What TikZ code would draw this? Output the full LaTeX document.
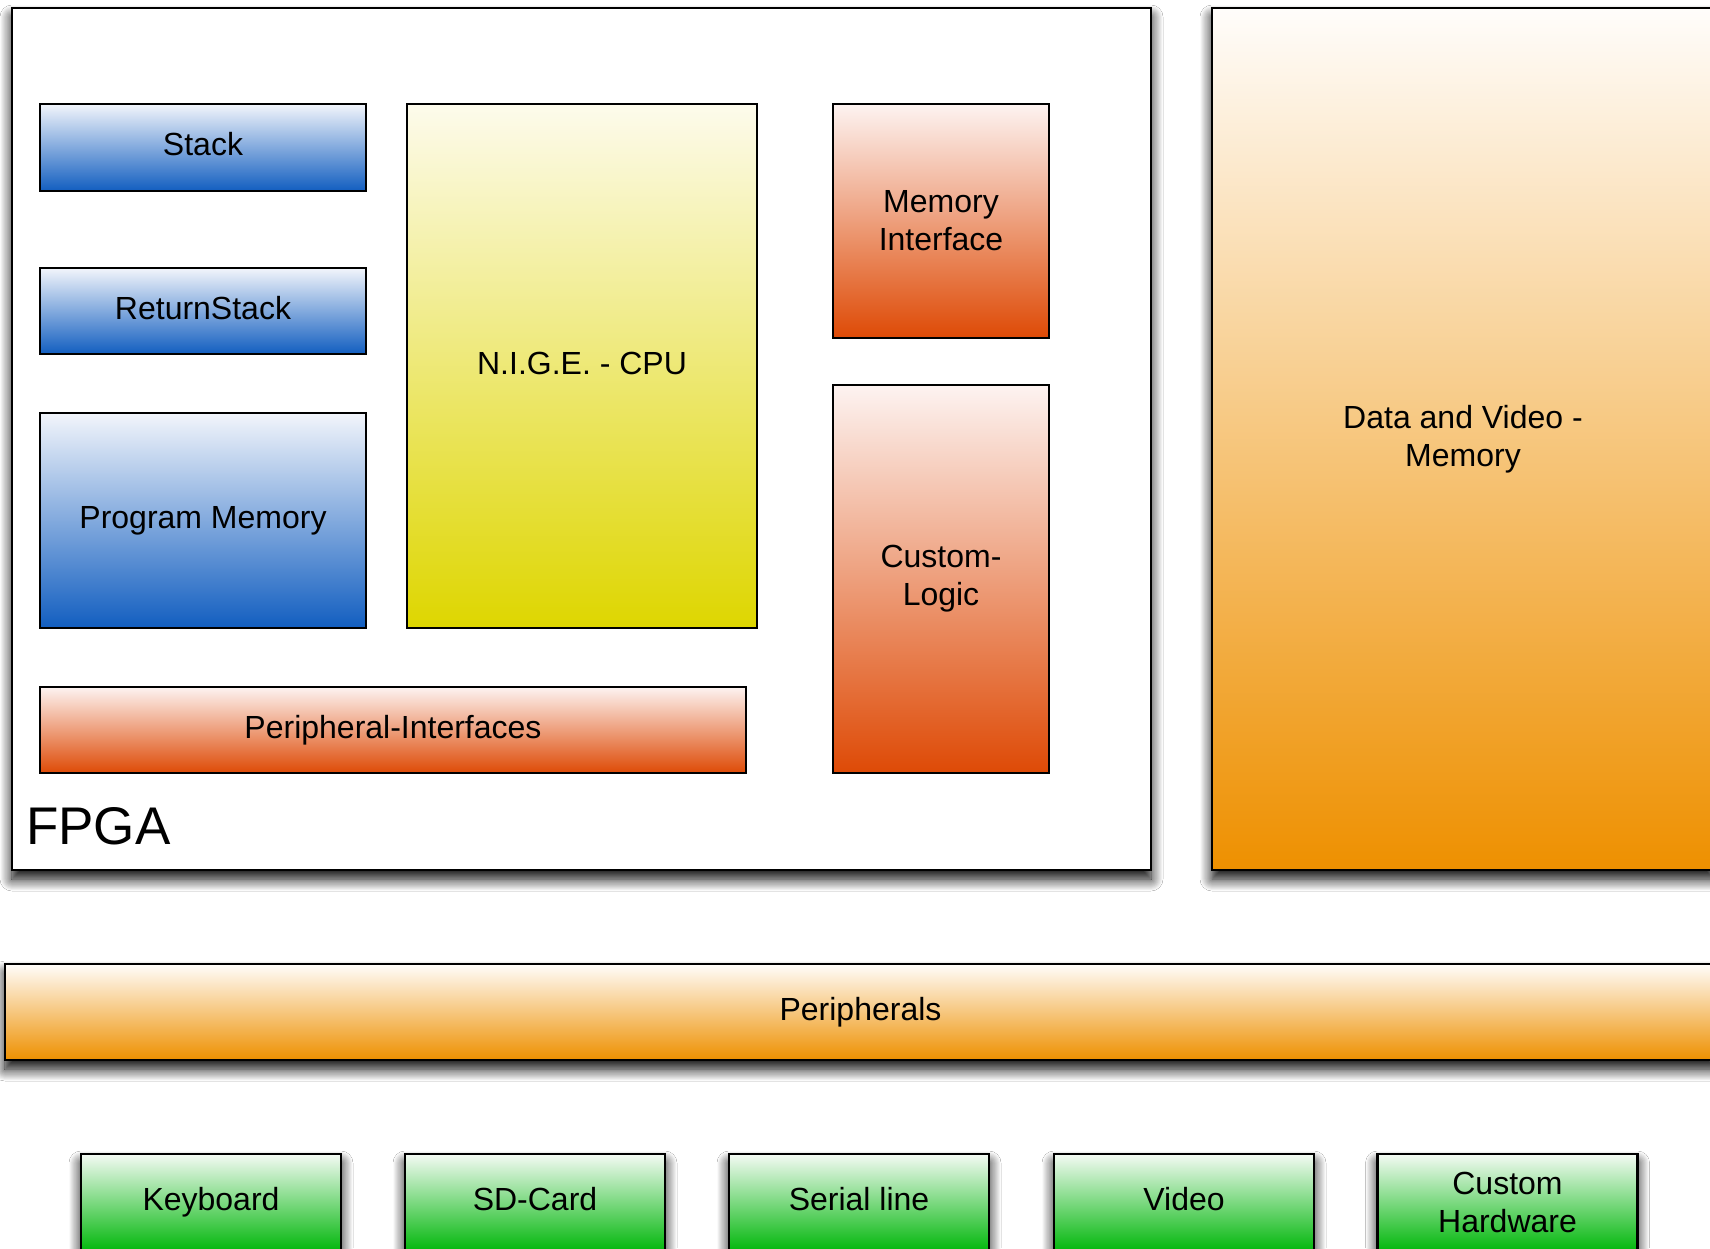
\documentclass[tikz,border=0pt]{standalone}
\usepackage{fontspec}
\setmainfont{Liberation Sans}
\usetikzlibrary{shadows.blur}

\definecolor{blueTop}{RGB}{242,245,251}
\definecolor{blueBot}{RGB}{18,94,192}
\definecolor{yelTop}{RGB}{253,251,236}
\definecolor{yelBot}{RGB}{222,214,0}
\definecolor{redTop}{RGB}{253,243,241}
\definecolor{redBot}{RGB}{222,74,6}
\definecolor{orgTop}{RGB}{255,253,251}
\definecolor{orgBot}{RGB}{238,144,0}
\definecolor{grnTop}{RGB}{244,250,244}
\definecolor{grnBot}{RGB}{4,184,14}

\tikzset{
  box/.style={draw=black, line width=2.5pt, rectangle, inner sep=0pt, outer sep=0pt,
    align=center, font=\fontsize{32}{38}\selectfont},
  oneline/.style={text height=23pt, text depth=7pt},
  shade/.style={blur shadow={shadow xshift=0pt, shadow yshift=-9pt,
    shadow blur radius=12pt, shadow blur steps=12, shadow opacity=100}},
  bluebox/.style={box, top color=blueTop, bottom color=blueBot},
  yelbox/.style={box, top color=yelTop, bottom color=yelBot},
  redbox/.style={box, top color=redTop, bottom color=redBot},
  orgbox/.style={box, shade, top color=orgTop, bottom color=orgBot},
  grnbox/.style={box, shade, top color=grnTop, bottom color=grnBot,
    minimum width=260pt, minimum height=96pt},
}

\begin{document}
\begin{tikzpicture}[x=1pt, y=-1pt]
  \useasboundingbox (0,0) rectangle (1710,1248);
  \fill[white] (0,0) rectangle (1710,1248);

  % FPGA container and external memory
  \node[box, shade, fill=white, minimum width=1139pt, minimum height=862pt] (fpga) at (581.5,439) {};
  \node[orgbox, minimum width=502pt, minimum height=862pt] (dvm) at (1463,439) {Data and Video -\\Memory};

  % Blocks inside the FPGA
  \node[bluebox, oneline, minimum width=326pt, minimum height=87pt] (stack) at (203,147.5) {Stack};
  \node[bluebox, oneline, minimum width=326pt, minimum height=86pt] (rstack) at (203,311) {ReturnStack};
  \node[bluebox, oneline, minimum width=326pt, minimum height=215pt] (pmem) at (203,520.5) {Program Memory};
  \node[yelbox, oneline, minimum width=350pt, minimum height=524pt] (cpu) at (582,366) {N.I.G.E. - CPU};
  \node[redbox, minimum width=216pt, minimum height=234pt] (memif) at (941,221) {Memory\\Interface};
  \node[redbox, minimum width=216pt, minimum height=388pt] (clogic) at (941,579) {Custom-\\Logic};
  \node[redbox, oneline, minimum width=706pt, minimum height=86pt] (pif) at (393,730) {Peripheral-Interfaces};
  \node[anchor=base west, inner sep=0pt, font=\fontsize{53}{60}\selectfont] (fpgalabel) at (26,844) {FPGA};

  % Peripheral bus
  \node[orgbox, oneline, minimum width=1711pt, minimum height=96pt] (periph) at (860.5,1012) {Peripherals};

  % Peripheral devices
  \node[grnbox, oneline] (kbd) at (211,1202) {Keyboard};
  \node[grnbox, oneline] (sd) at (535,1202) {SD-Card};
  \node[grnbox, oneline] (serial) at (859,1202) {Serial line};
  \node[grnbox, oneline] (video) at (1184,1202) {Video};
  \node[grnbox] (chw) at (1507.5,1202) {Custom\\Hardware};
\end{tikzpicture}
\end{document}
